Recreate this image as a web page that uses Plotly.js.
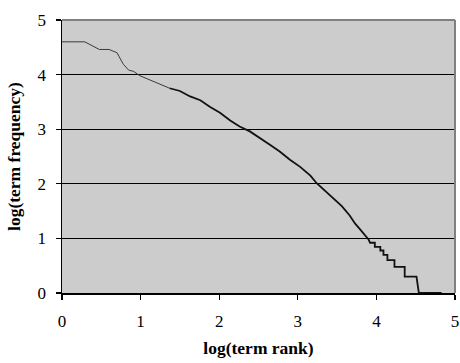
<!DOCTYPE html>
<html>
<head>
<meta charset="utf-8">
<script src="https://cdn.plot.ly/plotly-3.0.1.min.js"></script>
<style>html,body{margin:0;padding:0;background:#fff;}#chart{width:460px;height:363px;}</style>
</head>
<body>
<div id="chart"></div>
<script>
// log10(term rank) and log10(term frequency)
var logRank = [0, 0.29, 0.475, 0.60, 0.70, 0.78, 0.85, 0.91, 0.99, 1.12, 1.25, 1.37,
  1.50, 1.63, 1.76, 1.88, 2.01, 2.14, 2.26, 2.39, 2.52, 2.65, 2.77, 2.90, 3.03, 3.16,
  3.24, 3.35, 3.45, 3.56, 3.66, 3.73, 3.79, 3.85, 3.90, 3.92, 3.98, 3.98, 4.05, 4.05,
  4.09, 4.09, 4.14, 4.14, 4.23, 4.23, 4.36, 4.36, 4.51, 4.54, 4.83];
var logFreq = [4.60, 4.60, 4.46, 4.46, 4.40, 4.19, 4.08, 4.06, 3.98, 3.90, 3.81, 3.75,
  3.70, 3.60, 3.53, 3.41, 3.30, 3.16, 3.05, 2.96, 2.84, 2.71, 2.59, 2.44, 2.31, 2.15,
  2.01, 1.87, 1.74, 1.59, 1.42, 1.27, 1.17, 1.06, 0.98, 0.92, 0.92, 0.845, 0.845, 0.778,
  0.778, 0.699, 0.699, 0.602, 0.602, 0.477, 0.477, 0.301, 0.301, 0, 0];
var xTickVals = [0, 1, 2, 3, 4, 5];
var yTickVals = [0, 1, 2, 3, 4, 5];
var xTitle = 'log(term rank)';
var yTitle = 'log(term frequency)';

var split = 12;
var traces = [
  {x: logRank.slice(0, split), y: logFreq.slice(0, split), type: 'scatter', mode: 'lines',
   line: {color: '#3a3a3a', width: 1}, hoverinfo: 'x+y'},
  {x: logRank.slice(split - 1), y: logFreq.slice(split - 1), type: 'scatter', mode: 'lines',
   line: {color: '#111111', width: 1.8}, hoverinfo: 'x+y'}
];

var fam = 'Liberation Serif, Times New Roman, serif';
var tickFont = {family: fam, size: 17, color: '#000'};
var titleFont = {family: fam, size: 17.5, color: '#000'};
var layout = {
  width: 460, height: 363,
  margin: {l: 62, r: 5, t: 20, b: 70, pad: 0},
  paper_bgcolor: '#ffffff',
  plot_bgcolor: '#cccccc',
  showlegend: false,
  font: tickFont,
  xaxis: {
    range: [0, 5], tickvals: xTickVals, ticktext: xTickVals.map(String),
    showgrid: false, zeroline: false,
    showline: true, linecolor: '#000', linewidth: 1.5,
    ticks: 'outside', ticklen: 5, tickwidth: 1.2, tickcolor: '#000',
    ticklabelstandoff: 7,
    tickfont: tickFont,
    title: {text: '<b>' + xTitle + '</b>', font: titleFont, standoff: 12}
  },
  yaxis: {
    range: [0, 5], tickvals: yTickVals, ticktext: yTickVals.map(String),
    showgrid: true, gridcolor: '#000', gridwidth: 1.3, zeroline: false,
    showline: true, linecolor: '#000', linewidth: 1.5,
    ticks: 'outside', ticklen: 5, tickwidth: 1.2, tickcolor: '#000',
    ticklabelstandoff: 6,
    tickfont: tickFont,
    title: {text: '<b>' + yTitle + '</b>', font: titleFont, standoff: 12}
  },
  shapes: [
    {type: 'line', xref: 'paper', yref: 'paper', x0: 0, x1: 1, y0: 1, y1: 1,
     line: {color: '#808080', width: 2}},
    {type: 'line', xref: 'paper', yref: 'paper', x0: 1, x1: 1, y0: 0, y1: 1,
     line: {color: '#808080', width: 2}}
  ]
};

Plotly.newPlot('chart', traces, layout, {staticPlot: true, displayModeBar: false});
</script>
</body>
</html>
